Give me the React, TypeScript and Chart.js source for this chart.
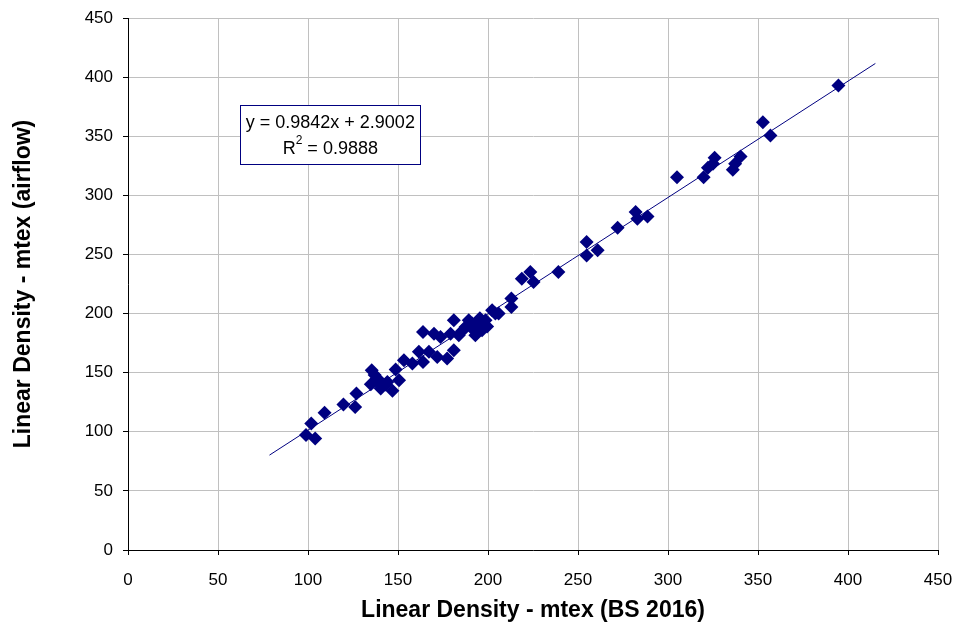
import React, { useEffect, useRef } from "react";
import { Chart, registerables } from "chart.js";

Chart.register(...registerables);

const bsValues = [
  98.9, 101.8, 104, 109.2, 119.7, 126.2, 126.9,
  135.4, 134.9, 138.6, 140.4, 144.1, 146.9, 148.7, 150.6, 137, 141, 143,
  153.3, 158, 163.9, 161.6, 163.9, 167.2, 170, 171.8, 173.6, 177.3, 181, 181,
  179.2, 183.8, 187.5, 189.3, 193, 194.9, 198.6, 202.3, 196.7, 191.2, 204.1,
  185.5, 195.5, 199.5, 192,
  205.9, 213, 213, 218.8, 223.5, 225.3, 239.1, 254.8, 254.8, 260.9, 272,
  282, 283, 288.6,
  305, 319.8, 322.2, 325.9, 325, 336, 337.3, 340.3, 352.7, 356.9, 394.7,
];

const airflowValues = [
  97.2, 107, 94.4, 116, 123, 121, 132.4,
  152, 140.3, 145, 136.6, 142.2, 134.6, 152.6, 143.6, 148, 139, 140,
  160.5, 157.7, 159.1, 167.6, 184.5, 167.6, 183, 163.3, 180.2, 161.9, 169, 194.3,
  183, 181.6, 188.7, 194.3, 181.6, 191.5, 194.3, 202.8, 185.9, 191.5, 200,
  185, 196, 189, 186,
  200, 212.7, 205.6, 229.5, 235.1, 226.7, 235.1, 260.5, 249.2, 253.5, 272.6,
  285.8, 280.2, 282.2,
  315.4, 315.4, 323.3, 331.8, 326.7, 321.6, 326.7, 332.8, 361.8, 350.6, 392.8,
];

const trendSlope = 0.9842;
const trendIntercept = 2.9002;
const trendRange = [78.6, 415.2];
const equationLines = ["y = 0.9842x + 2.9002", "R", "2", " = 0.9888"];

const axisTicks = [0, 50, 100, 150, 200, 250, 300, 350, 400, 450];

const NAVY = "#000080";
const FONT = "'Liberation Sans', Arial, sans-serif";

const equationPlugin = {
  id: "equationBox",
  afterDatasetsDraw(chart: any) {
    const ctx = chart.ctx;
    const xs = chart.scales.x;
    const ys = chart.scales.y;
    const left = xs.getPixelForValue(62.3);
    const right = xs.getPixelForValue(162.5);
    const top = ys.getPixelForValue(376.5);
    const bottom = ys.getPixelForValue(326.5);
    ctx.save();
    ctx.fillStyle = "#ffffff";
    ctx.fillRect(left, top, right - left, bottom - top);
    ctx.strokeStyle = NAVY;
    ctx.lineWidth = 1;
    ctx.strokeRect(Math.round(left) + 0.5, Math.round(top) + 0.5, Math.round(right - left), Math.round(bottom - top));
    const cx = (left + right) / 2;
    ctx.fillStyle = "#000000";
    ctx.font = `18px ${FONT}`;
    ctx.textBaseline = "middle";
    ctx.textAlign = "center";
    ctx.fillText(equationLines[0], cx, top + 18);
    const w1 = ctx.measureText(equationLines[1]).width;
    ctx.font = `12px ${FONT}`;
    const w2 = ctx.measureText(equationLines[2]).width;
    ctx.font = `18px ${FONT}`;
    const w3 = ctx.measureText(equationLines[3]).width;
    const total = w1 + w2 + w3;
    const x0 = cx - total / 2;
    const y2 = top + 44;
    ctx.textAlign = "left";
    ctx.fillText(equationLines[1], x0, y2);
    ctx.font = `12px ${FONT}`;
    ctx.fillText(equationLines[2], x0 + w1, y2 - 8);
    ctx.font = `18px ${FONT}`;
    ctx.fillText(equationLines[3], x0 + w1 + w2, y2);
    ctx.restore();
  },
};

export default function App() {
  const ref = useRef<HTMLCanvasElement>(null);
  useEffect(() => {
    const points = bsValues.map((x, i) => ({ x, y: airflowValues[i] }));
    const trend = trendRange.map((x) => ({ x, y: trendSlope * x + trendIntercept }));
    const chart = new Chart(ref.current!, {
      type: "scatter",
      data: {
        datasets: [
          {
            type: "line",
            data: trend,
            borderColor: NAVY,
            borderWidth: 1,
            pointRadius: 0,
            fill: false,
            order: 2,
          } as any,
          {
            data: points,
            backgroundColor: NAVY,
            borderColor: NAVY,
            borderWidth: 0,
            pointStyle: "rectRot",
            pointRadius: 7,
            order: 1,
          },
        ],
      },
      options: {
        animation: false,
        responsive: false,
        maintainAspectRatio: false,
        plugins: { legend: { display: false }, tooltip: { enabled: false } },
        layout: { padding: { top: 18, right: 20, left: 0, bottom: 0 } },
        scales: {
          x: {
            type: "linear",
            min: 0,
            max: 450,
            afterBuildTicks: (s: any) => {
              s.ticks = axisTicks.map((v) => ({ value: v }));
            },
            afterFit: (s: any) => {
              s.height = 74;
              s.paddingLeft = 0;
              s.paddingRight = 0;
            },
            grid: {
              color: "#c0c0c0",
              lineWidth: 1,
              tickLength: 5,
              tickColor: "#000000",
            },
            border: { color: "#000000", width: 1 },
            ticks: {
              color: "#000000",
              font: { family: FONT, size: 17 },
              padding: 15,
              maxRotation: 0,
            },
            title: {
              display: true,
              text: "Linear Density - mtex (BS 2016)",
              color: "#000000",
              font: { family: FONT, size: 23, weight: "bold" },
              padding: { top: 0, bottom: 0 },
            },
          },
          y: {
            type: "linear",
            min: 0,
            max: 450,
            afterBuildTicks: (s: any) => {
              s.ticks = axisTicks.map((v) => ({ value: v }));
            },
            afterFit: (s: any) => {
              s.width = 128;
              s.paddingTop = 0;
              s.paddingBottom = 0;
            },
            grid: {
              color: "#c0c0c0",
              lineWidth: 1,
              tickLength: 5,
              tickColor: "#000000",
            },
            border: { color: "#000000", width: 1 },
            ticks: {
              color: "#000000",
              font: { family: FONT, size: 17 },
              padding: 10,
            },
            title: {
              display: true,
              text: "Linear Density - mtex (airflow)",
              color: "#000000",
              font: { family: FONT, size: 23, weight: "bold" },
              padding: { top: 10, bottom: 0 },
            },
          },
        },
      },
      plugins: [equationPlugin],
    });
    return () => chart.destroy();
  }, []);
  return (
    <div style={{ position: "fixed", left: 0, top: 0, width: 958, height: 624, background: "#fff" }}>
      <canvas ref={ref} width={958} height={624} style={{ width: 958, height: 624 }} />
    </div>
  );
}
